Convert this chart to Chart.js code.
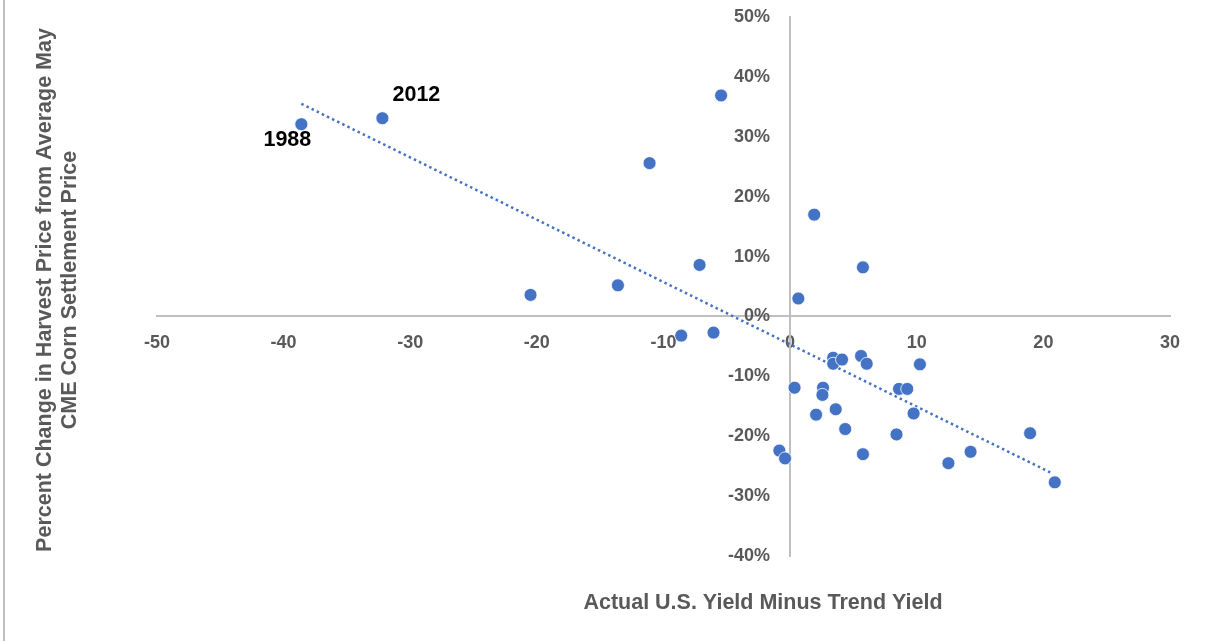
<!DOCTYPE html>
<html>
<head>
<meta charset="utf-8">
<script src="https://cdn.jsdelivr.net/npm/chart.js@4.4.1/dist/chart.umd.min.js"></script>
<style>
  html, body { margin: 0; padding: 0; background: #ffffff; }
  #wrap { position: relative; width: 1219px; height: 641px; }
  #edge { position: absolute; left: 3px; top: 0; width: 2px; height: 641px; background: #bfbfbf; }
  canvas { position: absolute; left: 0; top: 0; }
</style>
</head>
<body>
<div id="wrap">
  <div id="edge"></div>
  <canvas id="c" width="1219" height="641"></canvas>
</div>
<script>
// Yield deviation (bu/acre) vs % change in harvest price
const yieldDev = [
  -38.6, -32.2, -5.45, -11.1, -20.5, -13.6, -7.15, -8.6, -6.05, 1.9, 5.75, 0.65,
  3.4, 3.4, 4.1, 5.6, 6.05, 10.25, 0.35, 2.6, 2.55, 8.6, 9.25, 3.6,
  2.05, 9.75, 4.35, 8.4, 18.95, -0.85, -0.4, 5.75, 12.5, 14.25, 20.9
];
const priceChange = [
  32.1, 33.1, 36.9, 25.6, 3.6, 5.2, 8.6, -3.2, -2.7, 17.0, 8.2, 3.0,
  -6.9, -7.9, -7.2, -6.6, -7.9, -8.0, -11.9, -11.9, -13.1, -12.1, -12.1, -15.5,
  -16.4, -16.2, -18.8, -19.7, -19.5, -22.4, -23.7, -23.0, -24.5, -22.6, -27.7
];
const pointLabels = ["1988", "2012"];
const trendX = [-38.6, 20.7];
const trendY = [35.5, -26.2];
const xTicks = [-50, -40, -30, -20, -10, 0, 10, 20, 30];
const yTicks = [-40, -30, -20, -10, 0, 10, 20, 30, 40, 50];
const xTitle = "Actual U.S. Yield Minus Trend Yield";
const yTitle = ["Percent Change in Harvest Price from Average May", "CME Corn Settlement Price"];

const scatterData = yieldDev.map((x, i) => ({ x: x, y: priceChange[i] }));
const trendData = trendX.map((x, i) => ({ x: x, y: trendY[i] }));

const labelOffsets = [
  { dx: -14, dy: 16 },
  { dx: 34, dy: -23 }
];

const GRAY = '#595959';
const FONT = '"Liberation Sans", Arial, sans-serif';
const TITLE_FONT = 'bold 21.5px ' + FONT;

const extras = {
  id: 'extras',
  afterDatasetsDraw(chart) {
    const ctx = chart.ctx;
    const meta = chart.getDatasetMeta(0);
    ctx.save();
    ctx.font = TITLE_FONT;
    ctx.fillStyle = '#000000';
    ctx.textAlign = 'center';
    ctx.textBaseline = 'middle';
    pointLabels.forEach((t, i) => {
      const el = meta.data[i];
      ctx.fillText(t, el.x + labelOffsets[i].dx, el.y + labelOffsets[i].dy);
    });
    ctx.restore();
  },
  afterDraw(chart) {
    const ctx = chart.ctx;
    ctx.save();
    ctx.font = TITLE_FONT;
    ctx.fillStyle = GRAY;
    ctx.textAlign = 'center';
    ctx.textBaseline = 'middle';
    ctx.fillText(xTitle, 763, 603);
    ctx.translate(58, 290);
    ctx.rotate(-Math.PI / 2);
    ctx.fillText(yTitle[0], 0, -12.5);
    ctx.fillText(yTitle[1], 0, 12.5);
    ctx.restore();
  }
};

new Chart(document.getElementById('c'), {
  type: 'scatter',
  data: {
    datasets: [
      {
        label: 'Years',
        data: scatterData,
        backgroundColor: '#4472C4',
        borderColor: '#ffffff',
        borderWidth: 0.8,
        pointRadius: 6.5,
        pointHoverRadius: 6.5,
        order: 1
      },
      {
        label: 'Trend',
        type: 'line',
        data: trendData,
        borderColor: '#4472C4',
        borderWidth: 2.5,
        borderDash: [2.5, 3.2],
        borderCapStyle: 'butt',
        pointRadius: 0,
        fill: false,
        showLine: true,
        order: 2
      }
    ]
  },
  options: {
    responsive: false,
    animation: false,
    events: [],
    layout: { padding: { left: 157, right: 49, top: 17, bottom: 85 } },
    plugins: {
      legend: { display: false },
      tooltip: { enabled: false },
      title: { display: false }
    },
    scales: {
      x: {
        type: 'linear',
        min: -50,
        max: 30,
        position: { y: 0 },
        afterBuildTicks(scale) { scale.ticks = xTicks.map(v => ({ value: v })); },
        grid: {
          display: true,
          drawOnChartArea: false,
          drawTicks: false,
          color: '#bfbfbf'
        },
        border: { display: true, color: '#bfbfbf', width: 2 },
        ticks: {
          padding: 16,
          color: GRAY,
          font: { family: FONT, size: 18, weight: 'bold' },
          maxRotation: 0,
          autoSkip: false
        }
      },
      y: {
        type: 'linear',
        min: -40,
        max: 50,
        position: { x: 0 },
        afterBuildTicks(scale) { scale.ticks = yTicks.map(v => ({ value: v })); },
        grid: {
          display: true,
          drawOnChartArea: false,
          drawTicks: false,
          color: '#bfbfbf'
        },
        border: { display: true, color: '#bfbfbf', width: 2 },
        ticks: {
          color: GRAY,
          font: { family: FONT, size: 18, weight: 'bold' },
          autoSkip: false,
          callback: v => v + '%' + '    '
        }
      }
    }
  },
  plugins: [extras]
});
</script>
</body>
</html>
